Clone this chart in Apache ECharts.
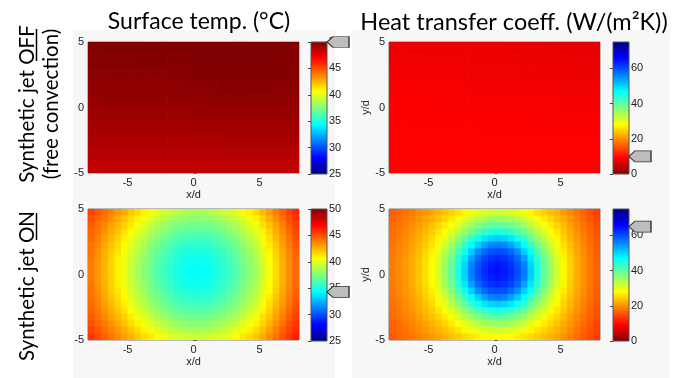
<!DOCTYPE html>
<html>
<head>
<meta charset="utf-8">
<script src="https://cdn.jsdelivr.net/npm/echarts@6/dist/echarts.min.js"></script>
<style>
  html, body { margin: 0; padding: 0; background: #fff; }
  #chart { width: 679px; height: 378px; }
</style>
</head>
<body>
<div id="chart"></div>
<script>
// tick labels
var xTicks = [-5, 0, 5];
var tempTicks = [25, 30, 35, 40, 45, 50];
var hTicks = [0, 20, 40, 60];
var tempRange = [25, 50];
var hRange = [0, 75];

// where the grey arrows sit on the colour bars
var arrowTempOff = 50;
var arrowHOff = 10;
var arrowTempOn = 34.3;
var arrowHOn = 65;

// cell centres (x/d, y/d), rows listed top to bottom
var offXs = [-7.5, -6.5, -5.5, -4.5, -3.5, -2.5, -1.5, -0.5, 0.5, 1.5, 2.5, 3.5, 4.5, 5.5, 6.5, 7.5];
var offYs = [4.5, 3.5, 2.5, 1.5, 0.5, -0.5, -1.5, -2.5, -3.5, -4.5];
var onXs = [-7.75, -7.25, -6.75, -6.25, -5.75, -5.25, -4.75, -4.25, -3.75, -3.25, -2.75, -2.25, -1.75, -1.25, -0.75, -0.25,
            0.25, 0.75, 1.25, 1.75, 2.25, 2.75, 3.25, 3.75, 4.25, 4.75, 5.25, 5.75, 6.25, 6.75, 7.25, 7.75];
var onYs = [4.75, 4.25, 3.75, 3.25, 2.75, 2.25, 1.75, 1.25, 0.75, 0.25,
            -0.25, -0.75, -1.25, -1.75, -2.25, -2.75, -3.25, -3.75, -4.25, -4.75];

// jet OFF, surface temperature (C)
var tempOff = [
  [49.9,49.9,49.9,49.9,50.0,50.0,50.0,50.0,50.0,50.0,50.0,50.0,50.0,50.0,50.0,49.9],
  [49.8,49.8,49.8,49.8,49.9,49.9,49.9,49.9,50.0,50.0,50.0,50.0,50.0,50.0,49.9,49.9],
  [49.7,49.7,49.7,49.7,49.7,49.7,49.8,49.8,49.9,49.9,49.9,49.9,49.9,49.9,49.9,49.8],
  [49.6,49.6,49.6,49.6,49.6,49.6,49.6,49.7,49.7,49.7,49.8,49.8,49.8,49.8,49.7,49.7],
  [49.4,49.5,49.5,49.5,49.5,49.5,49.5,49.5,49.5,49.6,49.6,49.6,49.6,49.6,49.6,49.5],
  [49.3,49.3,49.3,49.3,49.3,49.3,49.3,49.3,49.4,49.4,49.4,49.4,49.4,49.4,49.4,49.4],
  [49.1,49.1,49.1,49.1,49.1,49.1,49.1,49.1,49.2,49.2,49.2,49.2,49.2,49.2,49.2,49.2],
  [48.9,48.9,48.9,48.9,48.9,48.9,48.9,48.9,48.9,48.9,49.0,49.0,49.0,49.0,49.0,49.0],
  [48.7,48.7,48.7,48.7,48.7,48.7,48.7,48.7,48.7,48.7,48.7,48.7,48.7,48.7,48.7,48.7],
  [48.4,48.4,48.4,48.4,48.4,48.4,48.4,48.4,48.4,48.4,48.4,48.4,48.4,48.4,48.4,48.4]
];

// jet OFF, heat transfer coefficient (W/(m2K))
var hOff = [
  [8.2,8.2,8.2,8.1,8.1,8.1,8.0,8.0,8.0,7.9,7.9,7.8,7.8,7.7,7.7,7.7],
  [8.4,8.4,8.4,8.3,8.3,8.3,8.2,8.2,8.1,8.1,8.0,8.0,7.9,7.9,7.8,7.8],
  [8.6,8.6,8.6,8.5,8.5,8.5,8.4,8.4,8.3,8.3,8.2,8.2,8.1,8.1,8.0,8.0],
  [8.8,8.8,8.8,8.7,8.7,8.7,8.6,8.6,8.6,8.5,8.5,8.4,8.4,8.3,8.3,8.3],
  [9.0,9.0,9.0,8.9,8.9,8.9,8.9,8.8,8.8,8.8,8.7,8.7,8.7,8.6,8.6,8.6],
  [9.1,9.1,9.1,9.1,9.1,9.0,9.0,9.0,9.0,9.0,8.9,8.9,8.9,8.9,8.9,8.9],
  [9.2,9.2,9.2,9.2,9.2,9.2,9.2,9.1,9.1,9.1,9.1,9.1,9.1,9.1,9.1,9.1],
  [9.3,9.3,9.3,9.3,9.3,9.3,9.3,9.3,9.3,9.2,9.2,9.2,9.2,9.2,9.2,9.2],
  [9.4,9.4,9.4,9.4,9.4,9.4,9.4,9.4,9.4,9.4,9.3,9.3,9.3,9.3,9.3,9.3],
  [9.5,9.5,9.5,9.5,9.5,9.5,9.5,9.5,9.5,9.5,9.4,9.4,9.4,9.4,9.4,9.4]
];

// jet ON, surface temperature (C)
var tempOn = [
  [45.2,44.7,44.2,43.7,43.1,42.6,42.0,41.5,40.9,40.4,40.0,39.5,39.2,38.9,38.7,38.5,38.5,38.5,38.7,38.9,39.2,39.5,40.0,40.4,40.9,41.5,42.2,43.0,43.7,44.5,45.2,45.9],
  [44.9,44.4,43.9,43.3,42.7,42.1,41.5,40.9,40.4,39.8,39.3,38.9,38.5,38.2,38.0,37.8,37.8,37.8,38.0,38.2,38.5,38.9,39.3,39.8,40.4,40.9,41.7,42.5,43.3,44.1,44.9,45.6],
  [44.7,44.1,43.6,42.9,42.3,41.7,41.1,40.4,39.8,39.2,38.7,38.2,37.8,37.5,37.3,37.2,37.1,37.2,37.3,37.5,37.8,38.2,38.7,39.2,39.8,40.4,41.3,42.1,42.9,43.7,44.6,45.3],
  [44.4,43.9,43.3,42.6,42.0,41.3,40.6,40.0,39.3,38.7,38.1,37.7,37.3,36.9,36.7,36.5,36.5,36.5,36.7,36.9,37.3,37.7,38.1,38.7,39.3,40.0,40.8,41.7,42.6,43.4,44.3,45.1],
  [44.3,43.7,43.0,42.3,41.7,41.0,40.2,39.5,38.9,38.2,37.7,37.2,36.7,36.4,36.1,36.0,35.9,36.0,36.1,36.4,36.7,37.2,37.7,38.2,38.9,39.5,40.4,41.4,42.3,43.1,44.0,44.9],
  [44.1,43.5,42.8,42.1,41.4,40.7,39.9,39.2,38.5,37.8,37.3,36.7,36.3,35.9,35.6,35.5,35.4,35.5,35.6,35.9,36.3,36.7,37.3,37.8,38.5,39.2,40.1,41.1,42.0,42.9,43.8,44.7],
  [44.0,43.3,42.6,41.9,41.2,40.4,39.7,38.9,38.2,37.5,36.9,36.4,35.9,35.5,35.2,35.1,35.0,35.1,35.2,35.5,35.9,36.4,36.9,37.5,38.2,38.9,39.9,40.8,41.8,42.7,43.6,44.5],
  [43.9,43.2,42.5,41.8,41.0,40.2,39.5,38.7,38.0,37.3,36.7,36.1,35.6,35.2,34.9,34.8,34.7,34.8,34.9,35.2,35.6,36.1,36.7,37.3,38.0,38.7,39.7,40.6,41.6,42.6,43.5,44.4],
  [43.8,43.1,42.4,41.7,40.9,40.1,39.3,38.5,37.8,37.2,36.5,36.0,35.5,35.1,34.8,34.6,34.5,34.6,34.8,35.1,35.5,36.0,36.5,37.2,37.8,38.5,39.5,40.5,41.5,42.5,43.4,44.3],
  [43.8,43.1,42.4,41.7,40.9,40.1,39.3,38.5,37.8,37.1,36.5,35.9,35.4,35.0,34.7,34.5,34.4,34.5,34.7,35.0,35.4,35.9,36.5,37.1,37.8,38.5,39.5,40.5,41.5,42.5,43.4,44.3],
  [43.8,43.1,42.4,41.7,40.9,40.1,39.3,38.5,37.8,37.2,36.5,36.0,35.5,35.1,34.8,34.6,34.5,34.6,34.8,35.1,35.5,36.0,36.5,37.2,37.8,38.5,39.5,40.5,41.5,42.5,43.4,44.3],
  [43.9,43.2,42.5,41.8,41.0,40.2,39.5,38.7,38.0,37.3,36.7,36.1,35.6,35.2,34.9,34.8,34.7,34.8,34.9,35.2,35.6,36.1,36.7,37.3,38.0,38.7,39.7,40.6,41.6,42.6,43.5,44.4],
  [44.0,43.3,42.6,41.9,41.2,40.4,39.7,38.9,38.2,37.5,36.9,36.4,35.9,35.5,35.2,35.1,35.0,35.1,35.2,35.5,35.9,36.4,36.9,37.5,38.2,38.9,39.9,40.8,41.8,42.7,43.6,44.5],
  [44.1,43.5,42.8,42.1,41.4,40.7,39.9,39.2,38.5,37.8,37.3,36.7,36.3,35.9,35.6,35.5,35.4,35.5,35.6,35.9,36.3,36.7,37.3,37.8,38.5,39.2,40.1,41.1,42.0,42.9,43.8,44.7],
  [44.3,43.7,43.0,42.3,41.7,41.0,40.2,39.5,38.9,38.2,37.7,37.2,36.7,36.4,36.1,36.0,35.9,36.0,36.1,36.4,36.7,37.2,37.7,38.2,38.9,39.5,40.4,41.4,42.3,43.1,44.0,44.9],
  [44.4,43.9,43.3,42.6,42.0,41.3,40.6,40.0,39.3,38.7,38.1,37.7,37.3,36.9,36.7,36.5,36.5,36.5,36.7,36.9,37.3,37.7,38.1,38.7,39.3,40.0,40.8,41.7,42.6,43.4,44.3,45.1],
  [44.7,44.1,43.6,42.9,42.3,41.7,41.1,40.4,39.8,39.2,38.7,38.2,37.8,37.5,37.3,37.2,37.1,37.2,37.3,37.5,37.8,38.2,38.7,39.2,39.8,40.4,41.3,42.1,42.9,43.7,44.6,45.3],
  [44.9,44.4,43.9,43.3,42.7,42.1,41.5,40.9,40.4,39.8,39.3,38.9,38.5,38.2,38.0,37.8,37.8,37.8,38.0,38.2,38.5,38.9,39.3,39.8,40.4,40.9,41.7,42.5,43.3,44.1,44.9,45.6],
  [45.2,44.7,44.2,43.7,43.1,42.6,42.0,41.5,40.9,40.4,40.0,39.5,39.2,38.9,38.7,38.5,38.5,38.5,38.7,38.9,39.2,39.5,40.0,40.4,40.9,41.5,42.2,43.0,43.7,44.5,45.2,45.9],
  [45.5,45.0,44.5,44.0,43.5,43.0,42.5,42.0,41.5,41.1,40.6,40.2,39.9,39.7,39.5,39.3,39.3,39.3,39.5,39.7,39.9,40.2,40.6,41.1,41.5,42.0,42.7,43.4,44.1,44.8,45.5,46.2]
];

// jet ON, heat transfer coefficient (W/(m2K))
var hOn = [
  [16.3,17.1,17.9,18.7,19.6,20.5,21.6,22.6,23.7,25.0,26.2,27.6,28.8,29.8,30.8,31.3,31.5,31.3,30.8,29.8,28.8,27.6,26.2,25.0,23.7,22.6,21.1,19.5,18.1,16.7,15.4,14.1],
  [16.7,17.5,18.4,19.3,20.3,21.4,22.5,23.7,25.2,26.7,28.3,29.9,31.7,33.3,34.5,35.3,35.5,35.3,34.5,33.3,31.7,29.9,28.3,26.7,25.2,23.7,22.0,20.4,18.8,17.3,15.9,14.5],
  [17.1,17.9,18.9,19.9,20.9,22.1,23.5,25.0,26.7,28.6,30.8,33.1,35.3,37.2,38.7,39.6,40.0,39.6,38.7,37.2,35.3,33.1,30.8,28.6,26.7,25.0,23.0,21.1,19.4,17.9,16.4,14.9],
  [17.4,18.3,19.3,20.4,21.6,23.0,24.5,26.2,28.3,30.8,33.4,36.3,39.0,41.5,43.4,44.6,45.0,44.6,43.4,41.5,39.0,36.3,33.4,30.8,28.3,26.2,24.0,22.0,20.1,18.4,16.8,15.3],
  [17.7,18.7,19.8,20.9,22.2,23.7,25.4,27.6,29.9,33.1,36.3,39.6,43.0,45.9,48.4,50.0,50.5,50.0,48.4,45.9,43.0,39.6,36.3,33.1,29.9,27.6,24.9,22.7,20.7,18.9,17.3,15.7],
  [18.0,19.0,20.1,21.4,22.8,24.4,26.3,28.8,31.7,35.3,39.0,43.0,46.9,50.5,53.6,55.8,56.5,55.8,53.6,50.5,46.9,43.0,39.0,35.3,31.7,28.8,25.8,23.4,21.3,19.4,17.6,16.0],
  [18.2,19.3,20.4,21.7,23.2,25.0,27.2,29.8,33.3,37.2,41.5,45.9,50.5,55.1,57.9,59.4,60.0,59.4,57.9,55.1,50.5,45.9,41.5,37.2,33.3,29.8,26.7,24.0,21.7,19.7,17.9,16.3],
  [18.4,19.4,20.6,22.0,23.5,25.4,27.8,30.8,34.5,38.7,43.4,48.4,53.6,57.9,60.5,61.9,62.5,61.9,60.5,57.9,53.6,48.4,43.4,38.7,34.5,30.8,27.3,24.4,22.0,20.0,18.1,16.4],
  [18.5,19.6,20.8,22.1,23.7,25.7,28.2,31.3,35.3,39.6,44.6,50.0,55.8,59.4,61.9,63.4,64.0,63.4,61.9,59.4,55.8,50.0,44.6,39.6,35.3,31.3,27.7,24.7,22.2,20.1,18.3,16.6],
  [18.5,19.6,20.8,22.2,23.8,25.8,28.3,31.5,35.5,40.0,45.0,50.5,56.5,60.0,62.5,64.0,64.5,64.0,62.5,60.0,56.5,50.5,45.0,40.0,35.5,31.5,27.8,24.8,22.3,20.2,18.3,16.6],
  [18.5,19.6,20.8,22.1,23.7,25.7,28.2,31.3,35.3,39.6,44.6,50.0,55.8,59.4,61.9,63.4,64.0,63.4,61.9,59.4,55.8,50.0,44.6,39.6,35.3,31.3,27.7,24.7,22.2,20.1,18.3,16.6],
  [18.4,19.4,20.6,22.0,23.5,25.4,27.8,30.8,34.5,38.7,43.4,48.4,53.6,57.9,60.5,61.9,62.5,61.9,60.5,57.9,53.6,48.4,43.4,38.7,34.5,30.8,27.3,24.4,22.0,20.0,18.1,16.4],
  [18.2,19.3,20.4,21.7,23.2,25.0,27.2,29.8,33.3,37.2,41.5,45.9,50.5,55.1,57.9,59.4,60.0,59.4,57.9,55.1,50.5,45.9,41.5,37.2,33.3,29.8,26.7,24.0,21.7,19.7,17.9,16.3],
  [18.0,19.0,20.1,21.4,22.8,24.4,26.3,28.8,31.7,35.3,39.0,43.0,46.9,50.5,53.6,55.8,56.5,55.8,53.6,50.5,46.9,43.0,39.0,35.3,31.7,28.8,25.8,23.4,21.3,19.4,17.6,16.0],
  [17.7,18.7,19.8,20.9,22.2,23.7,25.4,27.6,29.9,33.1,36.3,39.6,43.0,45.9,48.4,50.0,50.5,50.0,48.4,45.9,43.0,39.6,36.3,33.1,29.9,27.6,24.9,22.7,20.7,18.9,17.3,15.7],
  [17.4,18.3,19.3,20.4,21.6,23.0,24.5,26.2,28.3,30.8,33.4,36.3,39.0,41.5,43.4,44.6,45.0,44.6,43.4,41.5,39.0,36.3,33.4,30.8,28.3,26.2,24.0,22.0,20.1,18.4,16.8,15.3],
  [17.1,17.9,18.9,19.9,20.9,22.1,23.5,25.0,26.7,28.6,30.8,33.1,35.3,37.2,38.7,39.6,40.0,39.6,38.7,37.2,35.3,33.1,30.8,28.6,26.7,25.0,23.0,21.1,19.4,17.9,16.4,14.9],
  [16.7,17.5,18.4,19.3,20.3,21.4,22.5,23.7,25.2,26.7,28.3,29.9,31.7,33.3,34.5,35.3,35.5,35.3,34.5,33.3,31.7,29.9,28.3,26.7,25.2,23.7,22.0,20.4,18.8,17.3,15.9,14.5],
  [16.3,17.1,17.9,18.7,19.6,20.5,21.6,22.6,23.7,25.0,26.2,27.6,28.8,29.8,30.8,31.3,31.5,31.3,30.8,29.8,28.8,27.6,26.2,25.0,23.7,22.6,21.1,19.5,18.1,16.7,15.4,14.1],
  [15.9,16.6,17.3,18.1,18.9,19.8,20.6,21.6,22.5,23.5,24.5,25.4,26.3,27.2,27.8,28.2,28.3,28.2,27.8,27.2,26.3,25.4,24.5,23.5,22.5,21.6,20.1,18.8,17.4,16.1,14.8,13.6]
];

var jet = ['#00007F', '#0000FF', '#007FFF', '#00FFFF', '#7FFF7F', '#FFFF00', '#FF7F00', '#FF0000', '#7F0000'];
var jetRev = jet.slice().reverse();

var tickFont = 'Liberation Sans';
var bigFont = 'Lato';

function toCells(grid, xs, ys) {
    var out = [];
    for (var i = 0; i < ys.length; i++) {
        for (var j = 0; j < xs.length; j++) {
            out.push([xs[j], ys[i], grid[i][j]]);
        }
    }
    return out;
}

function cellRenderer(cw, ch) {
    return function (params, api) {
        var x = api.value(0), y = api.value(1);
        var p0 = api.coord([x - cw / 2, y + ch / 2]);
        var p1 = api.coord([x + cw / 2, y - ch / 2]);
        var cs = params.coordSys;
        var shape = echarts.graphic.clipRectByRect(
            { x: p0[0], y: p0[1], width: p1[0] - p0[0] + 0.7, height: p1[1] - p0[1] + 0.7 },
            { x: cs.x, y: cs.y, width: cs.width, height: cs.height });
        if (!shape) return;
        return { type: 'rect', shape: shape, style: { fill: api.visual('color') } };
    };
}

function barRenderer(colors) {
    return function (params, api) {
        var tl = api.coord([api.value(0), api.value(3)]);
        var br = api.coord([api.value(2), api.value(1)]);
        var n = colors.length;
        var stops = colors.map(function (c, i) {
            return { offset: i / (n - 1), color: colors[n - 1 - i] };
        });
        return {
            type: 'rect',
            shape: { x: tl[0], y: tl[1], width: br[0] - tl[0], height: br[1] - tl[1] },
            style: { fill: new echarts.graphic.LinearGradient(0, 0, 0, 1, stops), stroke: '#555', lineWidth: 1 }
        };
    };
}

var panels = [
    { plot: { left: 88, top: 42 }, bar: { left: 311, top: 42 }, grid: tempOff, xs: offXs, ys: offYs, cw: 1, ch: 1,
      range: tempRange, colors: jet, ticks: tempTicks, arrow: arrowTempOff, yName: '' },
    { plot: { left: 389, top: 42 }, bar: { left: 613, top: 42 }, grid: hOff, xs: offXs, ys: offYs, cw: 1, ch: 1,
      range: hRange, colors: jetRev, ticks: hTicks, arrow: arrowHOff, yName: 'y/d' },
    { plot: { left: 88, top: 209 }, bar: { left: 311, top: 209 }, grid: tempOn, xs: onXs, ys: onYs, cw: 0.5, ch: 0.5,
      range: tempRange, colors: jet, ticks: tempTicks, arrow: arrowTempOn, yName: '' },
    { plot: { left: 389, top: 209 }, bar: { left: 613, top: 209 }, grid: hOn, xs: onXs, ys: onYs, cw: 0.5, ch: 0.5,
      range: hRange, colors: jetRev, ticks: hTicks, arrow: arrowHOn, yName: 'y/d' }
];

var grids = [], xAxes = [], yAxes = [], series = [], visualMaps = [];
var labelStyle = { fontFamily: tickFont, fontSize: 11, color: '#222' };

panels.forEach(function (p, k) {
    grids.push({ left: p.plot.left, top: p.plot.top, width: 211, height: 131, show: true,
                 borderColor: '#7a7a7a', borderWidth: 1, backgroundColor: 'transparent' });
    xAxes.push({
        gridIndex: k, type: 'value', min: -8, max: 8,
        axisLine: { show: false }, splitLine: { show: false },
        axisTick: { inside: true, length: 3, customValues: xTicks, lineStyle: { color: '#555' } },
        axisLabel: Object.assign({ margin: 4, customValues: xTicks }, labelStyle),
        name: 'x/d', nameLocation: 'middle', nameGap: 16,
        nameTextStyle: { fontFamily: tickFont, fontSize: 11, color: '#222' }
    });
    yAxes.push({
        gridIndex: k, type: 'value', min: -5, max: 5, interval: 5,
        axisLine: { show: false }, splitLine: { show: false },
        axisTick: { inside: true, length: 3, lineStyle: { color: '#555' } },
        axisLabel: Object.assign({ margin: 4 }, labelStyle),
        name: p.yName, nameLocation: 'middle', nameGap: 17, nameRotate: 90,
        nameTextStyle: { fontFamily: tickFont, fontSize: 11, color: '#222' }
    });
    visualMaps.push({
        type: 'continuous', show: false, seriesIndex: series.length, dimension: 2,
        min: p.range[0], max: p.range[1], inRange: { color: p.colors }
    });
    series.push({
        type: 'custom', xAxisIndex: k, yAxisIndex: k, silent: true,
        renderItem: cellRenderer(p.cw, p.ch), encode: { x: 0, y: 1 },
        data: toCells(p.grid, p.xs, p.ys)
    });
});

panels.forEach(function (p, k) {
    var gi = 4 + k;
    grids.push({ left: p.bar.left, top: p.bar.top, width: 16, height: 132 });
    xAxes.push({ gridIndex: gi, type: 'value', min: 0, max: 1, show: false });
    yAxes.push({
        gridIndex: gi, type: 'value', position: 'right', min: p.range[0], max: p.range[1],
        axisLine: { show: false }, splitLine: { show: false },
        axisTick: { inside: true, length: 3, customValues: p.ticks, lineStyle: { color: '#444' } },
        axisLabel: Object.assign({ margin: 2, customValues: p.ticks }, labelStyle)
    });
    series.push({
        type: 'custom', xAxisIndex: gi, yAxisIndex: gi, silent: true, z: 1,
        renderItem: barRenderer(p.colors), encode: { x: [0, 2], y: [1, 3] },
        data: [[0, p.range[0], 1, p.range[1]]]
    });
    series.push({
        type: 'scatter', xAxisIndex: gi, yAxisIndex: gi, silent: true, clip: false, z: 5,
        symbol: 'path://M0,5L6,0L22,0L22,10L6,10Z', symbolSize: [22, 11], symbolOffset: [11, 0],
        itemStyle: { color: '#bdbdbd', borderColor: '#333', borderWidth: 1, opacity: 1 },
        data: [[1, p.arrow]]
    });
});

function bigText(txt, x, y, size, rot) {
    return {
        type: 'text', x: x, y: y, rotation: rot || 0, z: 10,
        style: { text: txt, fontFamily: bigFont, fontSize: size, fill: '#000',
                 align: 'center', verticalAlign: 'middle', textAlign: 'center', textVerticalAlign: 'middle' }
    };
}

var graphics = [
    { type: 'rect', shape: { x: 73, y: 30, width: 262, height: 170 }, style: { fill: '#f7f7f7' }, z: -10 },
    { type: 'rect', shape: { x: 352, y: 30, width: 318, height: 170 }, style: { fill: '#f7f7f7' }, z: -10 },
    { type: 'rect', shape: { x: 73, y: 200, width: 262, height: 178 }, style: { fill: '#f7f7f7' }, z: -10 },
    { type: 'rect', shape: { x: 352, y: 200, width: 318, height: 178 }, style: { fill: '#f7f7f7' }, z: -10 },
    bigText('Surface temp. (°C)', 199, 22, 23),
    bigText('Heat transfer coeff. (W/(m²K))', 514, 22, 23.5),
    bigText('Synthetic jet OFF', 27, 104, 20.5, Math.PI / 2),
    bigText('(free convection)', 51, 104, 20.5, Math.PI / 2),
    bigText('Synthetic jet ON', 27, 286, 20.5, Math.PI / 2),
    { type: 'line', shape: { x1: 36.5, y1: 29, x2: 36.5, y2: 61 }, style: { stroke: '#000', lineWidth: 1.5 }, z: 10 },
    { type: 'line', shape: { x1: 36.5, y1: 213, x2: 36.5, y2: 240 }, style: { stroke: '#000', lineWidth: 1.5 }, z: 10 }
];

var chart = echarts.init(document.getElementById('chart'));
chart.setOption({
    animation: false,
    backgroundColor: '#fff',
    grid: grids,
    xAxis: xAxes,
    yAxis: yAxes,
    visualMap: visualMaps,
    series: series,
    graphic: graphics
});
</script>
</body>
</html>
